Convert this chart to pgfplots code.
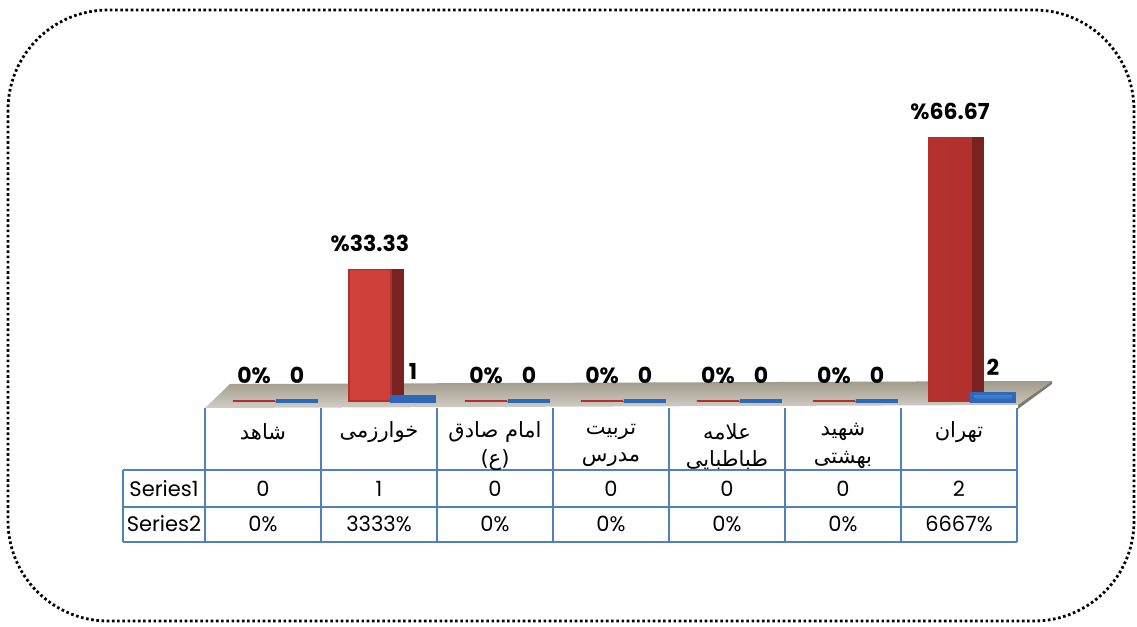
\documentclass[border=0pt]{standalone}
\usepackage{pgfplots}
\pgfplotsset{compat=1.18}
\usepackage{fontspec}
\setmainfont{Poppins}
\newfontfamily\arabicfont[Script=Arabic]{DejaVu Sans}
\TeXXeTstate=1
\definecolor{tblue}{RGB}{79,129,189}
\definecolor{redL}{RGB}{214,68,62}
\definecolor{redD}{RGB}{178,48,45}
\definecolor{redS}{RGB}{122,34,32}
\definecolor{blueL}{RGB}{70,135,215}
\definecolor{blueD}{RGB}{45,105,185}
\definecolor{floorA}{RGB}{160,154,140}
\definecolor{floorB}{RGB}{210,205,195}
\newcommand{\AR}[1]{{\arabicfont\beginR #1\endR}}
\begin{document}
\begin{tikzpicture}
\begin{scope}[x=0.5pt,y=-0.5pt]
\path (0,0) rectangle (1137,627);
\draw[line width=1.4pt, dash pattern=on 1.3pt off 1.3pt, rounded corners=50pt] (8,10) rectangle (1134,621);
\shade[top color=floorA, bottom color=floorB] (205,408) -- (1018,405) -- (1052,381) -- (230,384) -- cycle;
\fill[floorA!80!black] (1018,405) -- (1052,381) -- (1052,384) -- (1018,409) -- cycle;
\end{scope}
\begin{axis}[at={(102.5pt,-200.5pt)}, anchor=south west,
  width=406pt, height=158pt, scale only axis,
  axis lines=none, ticks=none, clip=false,
  xmin=-0.5, xmax=6.5, ymin=0, ymax=80,
  ybar=0pt, bar width=21pt,
  point meta=explicit symbolic]
% side faces of the red bars
\addplot[ybar, bar width=6pt, bar shift=9pt, fill=redS, draw=redS] coordinates {(0,0) (1,33.33) (2,0) (3,0) (4,0) (5,0) (6,66.67)};
% Series2 (red)
\addplot[ybar, bar shift=-4.5pt, left color=redL, right color=redD, draw=redD, line width=0.8pt,
  nodes near coords, every node near coord/.append style={anchor=center, yshift=13pt, font=\bfseries\fontsize{11}{13}\selectfont, black}]
  coordinates {(0,0) [0\%] (1,33.33) [\%33.33] (2,0) [0\%] (3,0) [0\%] (4,0) [0\%] (5,0) [0\%] (6,66.67) [\%66.67]};
% Series1 (blue)
\addplot[ybar, bar shift=17pt, top color=blueL, bottom color=blueD, draw=blueD, line width=1.6pt,
  nodes near coords, every node near coord/.append style={anchor=center, yshift=13pt, xshift=0pt, font=\bfseries\fontsize{11}{13}\selectfont, black}]
  coordinates {(0,0) [0] (1,1) [1] (2,0) [0] (3,0) [0] (4,0) [0] (5,0) [0] (6,2) [2]};
\end{axis}
\begin{scope}[x=0.5pt,y=-0.5pt]
\foreach \xx in {205,321,437,553,669,785,901,1017} {\draw[tblue, line width=1pt] (\xx,408) -- (\xx,542);}
\draw[tblue, line width=1pt] (123,470) -- (123,542);
\foreach \yy in {470,507,542} {\draw[tblue, line width=1pt] (123,\yy) -- (1017,\yy);}
\begin{scope}[every node/.style={font=\fontsize{10.5}{12}\selectfont, inner sep=0pt}]
\node at (263,432) {\AR{شاهد}};
\node at (379,432) {\AR{خوارزمی}};
\node at (495,432) {\AR{امام صادق}};
\node at (495,460) {\AR{(ع)}};
\node at (611,432) {\AR{تربیت}};
\node at (611,460) {\AR{مدرس}};
\node at (727,432) {\AR{علامه}};
\node at (727,460) {\AR{طباطبایی}};
\node at (843,432) {\AR{شهید}};
\node at (843,460) {\AR{بهشتی}};
\node at (959,432) {\AR{تهران}};
\node at (164,489) {Series1};
\node at (164,524) {Series2};
\foreach \v [count=\i from 0] in {0,1,0,0,0,0,2} {\node at (263+116*\i,489) {\v};}
\foreach \v [count=\i from 0] in {0\%,3333\%,0\%,0\%,0\%,0\%,6667\%} {\node at (263+116*\i,524) {\v};}
\end{scope}
\end{scope}
\end{tikzpicture}
\end{document}
